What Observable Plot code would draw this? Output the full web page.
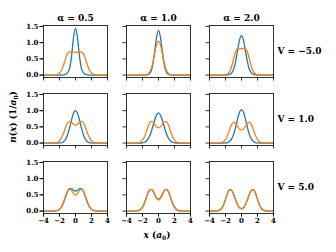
<!DOCTYPE html>
<html>
<head>
<meta charset="utf-8">
<script src="https://cdn.jsdelivr.net/npm/d3@7"></script>
<script src="https://cdn.jsdelivr.net/npm/@observablehq/plot@0.6"></script>
<style>
  html, body { margin: 0; padding: 0; background: white; }
  #wrap { position: relative; width: 336px; height: 252px; font-family: "DejaVu Serif", serif; font-weight: bold; }
  .lab { position: absolute; font-size: 9px; white-space: nowrap; line-height: 1; }
  .lab sub { font-size: 6px; vertical-align: -2px; }
  #ylab { left: 14px; top: 117px; transform: translate(-50%, -50%) rotate(-90deg); }
  #xlab { left: 157px; top: 236px; transform: translate(-50%, -50%); }
</style>
</head>
<body>
<div id="wrap">
  <div id="plot"></div>
  <div class="lab" id="ylab"><i>n</i>(<i>x</i>) (1/<i>a</i><sub>0</sub>)</div>
  <div class="lab" id="xlab"><i>x</i> (<i>a</i><sub>0</sub>)</div>
</div>
<script>
const alphas = [0.5, 1.0, 2.0];
const potentials = [-5.0, 1.0, 5.0];
const xTicks = [-4, -2, 0, 2, 4];
const yTicks = [0.0, 0.5, 1.0, 1.5];
const seriesNames = ["series 1", "series 2"];
const seriesColors = ["#1f77b4", "#ff7f0e"];
const xs = [-4, -3.75, -3.5, -3.25, -3, -2.75, -2.5, -2.25, -2, -1.75, -1.5, -1.25, -1, -0.75, -0.5, -0.25, 0,
            0.25, 0.5, 0.75, 1, 1.25, 1.5, 1.75, 2, 2.25, 2.5, 2.75, 3, 3.25, 3.5, 3.75, 4];

// V = -5.0
const blueVm5 = [
  [0,0,0,0,0,0,0,0,0,0,0.005,0.02,0.07,0.2,0.57,1.15,1.45,1.15,0.57,0.2,0.07,0.02,0.005,0,0,0,0,0,0,0,0,0,0],
  [0,0,0,0,0,0,0,0,0,0,0.005,0.02,0.08,0.28,0.68,1.16,1.38,1.16,0.68,0.28,0.08,0.02,0.005,0,0,0,0,0,0,0,0,0,0],
  [0,0,0,0,0,0,0,0,0,0.005,0.02,0.06,0.17,0.40,0.74,1.08,1.22,1.08,0.74,0.40,0.17,0.06,0.02,0.005,0,0,0,0,0,0,0,0,0]
];
const orangeVm5 = [
  [0,0,0,0,0,0.002,0.008,0.025,0.065,0.15,0.3,0.5,0.66,0.71,0.72,0.71,0.70,0.71,0.72,0.71,0.66,0.5,0.3,0.15,0.065,0.025,0.008,0.002,0,0,0,0,0],
  [0,0,0,0,0,0,0,0,0,0.004,0.015,0.05,0.14,0.34,0.64,0.93,1.05,0.93,0.64,0.34,0.14,0.05,0.015,0.004,0,0,0,0,0,0,0,0,0],
  [0,0,0,0,0,0,0,0.003,0.01,0.035,0.1,0.25,0.48,0.71,0.81,0.82,0.82,0.82,0.81,0.71,0.48,0.25,0.1,0.035,0.01,0.003,0,0,0,0,0,0,0]
];
// V = 1.0
const blueV1 = [
  [0,0,0,0,0,0,0,0,0.004,0.014,0.044,0.11,0.25,0.46,0.71,0.92,1.0,0.92,0.71,0.46,0.25,0.11,0.044,0.014,0.004,0,0,0,0,0,0,0,0],
  [0,0,0,0,0,0,0,0.002,0.008,0.025,0.065,0.15,0.28,0.48,0.69,0.86,0.93,0.86,0.69,0.48,0.28,0.15,0.065,0.025,0.008,0.002,0,0,0,0,0,0,0],
  [0,0,0,0,0,0,0,0,0.004,0.015,0.045,0.12,0.26,0.47,0.73,0.95,1.03,0.95,0.73,0.47,0.26,0.12,0.045,0.015,0.004,0,0,0,0,0,0,0,0]
];
const orangeV1 = [
  [0,0,0,0,0,0.002,0.008,0.025,0.07,0.16,0.3,0.48,0.62,0.67,0.64,0.58,0.55,0.58,0.64,0.67,0.62,0.48,0.3,0.16,0.07,0.025,0.008,0.002,0,0,0,0,0],
  [0,0,0,0,0,0.003,0.01,0.035,0.09,0.2,0.36,0.55,0.66,0.66,0.58,0.5,0.47,0.5,0.58,0.66,0.66,0.55,0.36,0.2,0.09,0.035,0.01,0.003,0,0,0,0,0],
  [0,0,0,0,0,0.004,0.015,0.045,0.11,0.23,0.4,0.57,0.64,0.61,0.52,0.43,0.40,0.43,0.52,0.61,0.64,0.57,0.4,0.23,0.11,0.045,0.015,0.004,0,0,0,0,0]
];
// V = 5.0
const blueV5 = [
  [0,0,0,0,0,0,0.005,0.018,0.05,0.13,0.26,0.43,0.6,0.69,0.69,0.64,0.62,0.64,0.69,0.69,0.6,0.43,0.26,0.13,0.05,0.018,0.005,0,0,0,0,0,0],
  [0,0,0,0,0,0.004,0.015,0.05,0.12,0.25,0.43,0.6,0.67,0.64,0.53,0.41,0.37,0.41,0.53,0.64,0.67,0.6,0.43,0.25,0.12,0.05,0.015,0.004,0,0,0,0,0],
  [0,0,0,0.002,0.008,0.03,0.08,0.19,0.36,0.55,0.66,0.65,0.53,0.36,0.2,0.1,0.07,0.1,0.2,0.36,0.53,0.65,0.66,0.55,0.36,0.19,0.08,0.03,0.008,0.002,0,0,0]
];
const orangeV5 = [
  [0,0,0,0,0,0,0.006,0.02,0.06,0.14,0.28,0.46,0.62,0.68,0.64,0.54,0.50,0.54,0.64,0.68,0.62,0.46,0.28,0.14,0.06,0.02,0.006,0,0,0,0,0,0],
  [0,0,0,0,0,0.004,0.015,0.05,0.12,0.25,0.43,0.6,0.67,0.64,0.52,0.39,0.34,0.39,0.52,0.64,0.67,0.6,0.43,0.25,0.12,0.05,0.015,0.004,0,0,0,0,0],
  [0,0,0,0.002,0.008,0.03,0.08,0.19,0.36,0.55,0.66,0.65,0.53,0.36,0.2,0.1,0.07,0.1,0.2,0.36,0.53,0.65,0.66,0.55,0.36,0.19,0.08,0.03,0.008,0.002,0,0,0]
];

const blueRows = [blueVm5, blueV1, blueV5];
const orangeRows = [orangeVm5, orangeV1, orangeV5];

const data = [];
potentials.forEach((V, i) => {
  alphas.forEach((a, j) => {
    [[seriesNames[0], blueRows[i][j]], [seriesNames[1], orangeRows[i][j]]].forEach(([s, arr]) => {
      arr.forEach((n, k) => data.push({x: xs[k], n, series: s, alpha: a, V}));
    });
  });
});

const fmtV = d => ("V = " + d.toFixed(1)).replace("-", "\u2212");
const fmtA = d => "\u03b1 = " + d.toFixed(1);

const plot = Plot.plot({
  width: 336,
  height: 252,
  marginLeft: 42,
  marginRight: 63,
  marginTop: 24,
  marginBottom: 38,
  x: {domain: [-4, 4]},
  y: {domain: [-0.075, 1.53]},
  fx: {domain: alphas, padding: 0.234},
  fy: {domain: potentials, padding: 0.236},
  color: {domain: seriesNames, range: seriesColors},
  style: {fontFamily: "DejaVu Serif", fontWeight: "bold", fontSize: "7px", background: "white", color: "black"},
  marks: [
    Plot.line(data, {x: "x", y: "n", z: "series", stroke: "series", fx: "alpha", fy: "V", strokeWidth: 1.3, curve: "monotone-x"}),
    Plot.frame({stroke: "black", strokeWidth: 0.8}),
    Plot.axisY({ticks: yTicks, tickFormat: () => "", tickSize: 3.5, strokeWidth: 0.8, facetAnchor: null, label: null}),
    Plot.axisY({ticks: yTicks, tickFormat: ".1f", tickSize: 3.5, tickPadding: 1.5, strokeWidth: 0.8, facetAnchor: "left", label: null}),
    Plot.axisX({ticks: xTicks, tickFormat: () => "", tickSize: 3.5, strokeWidth: 0.8, facetAnchor: null, label: null}),
    Plot.axisX({ticks: xTicks, tickSize: 3.5, tickPadding: 1.5, strokeWidth: 0.8, facetAnchor: "bottom", label: null}),
    Plot.axisFx({anchor: "top", tickSize: 0, tickPadding: 5, tickFormat: fmtA, label: null, fontSize: 9}),
    Plot.axisFy({anchor: "right", tickSize: 0, tickPadding: 4, tickFormat: fmtV, label: null, fontSize: 9, textAnchor: "start"})
  ]
});
document.getElementById("plot").appendChild(plot);
</script>
</body>
</html>
